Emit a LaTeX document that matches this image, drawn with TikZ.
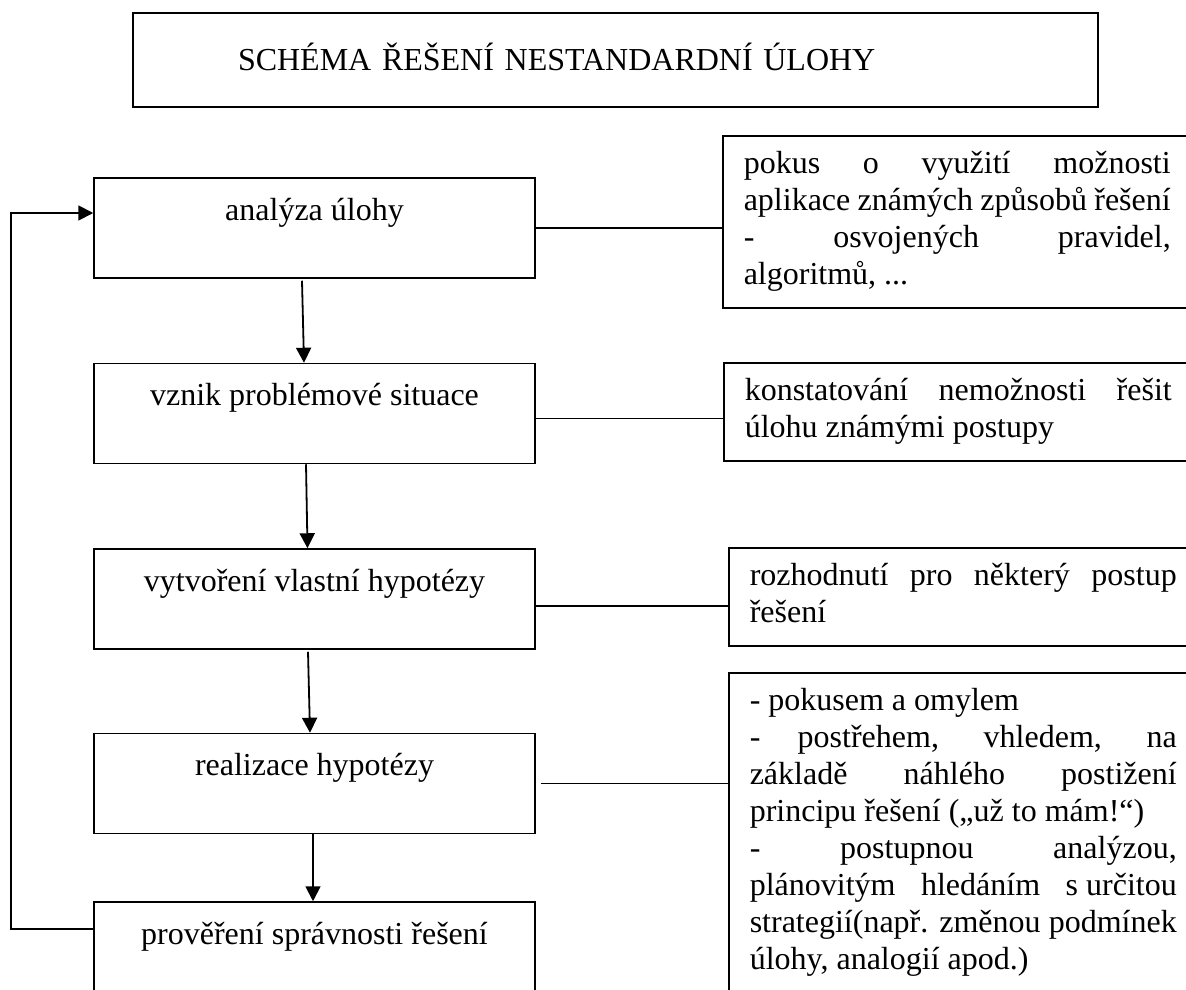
\documentclass[tikz,border=0pt]{standalone}
\usepackage{fontspec}
\setmainfont{Liberation Serif}
\usepackage{tikz}
\usetikzlibrary{positioning,arrows.meta}
\tikzset{
  titlebox/.style={draw, line width=1.5pt, minimum width=965pt, minimum height=94pt, text width=935pt, inner xsep=15pt, inner ysep=0pt, align=left, text height=21pt, text depth=0pt, font=\fontsize{32}{37}\selectfont},
  stepbox/.style={draw, line width=1.5pt, minimum width=441pt, inner sep=0pt, text height=42pt, text depth=58pt, font=\fontsize{32}{37}\selectfont},
  notebox/.style={draw, line width=1.5pt, anchor=north west, text width=427pt, inner xsep=21pt, inner ysep=12pt, align=justify, font=\fontsize{32}{37}\selectfont},
  link/.style={line width=1.8pt},
  flow/.style={-{Triangle[length=15pt,width=15pt]}, line width=1.8pt},
}

\begin{document}
\begin{tikzpicture}[x=1pt, y=1pt]
\useasboundingbox (0,0) rectangle (1186,-990);
\clip (0,0) rectangle (1186,-990);
\node[titlebox] (title) at (615.5,-60) {\hspace*{90pt}SCHÉMA ŘEŠENÍ NESTANDARDNÍ ÚLOHY};
% steps
\node[stepbox] (ana) at (314.5,-228) {analýza úlohy};
\node[stepbox, below=84pt of ana] (vznik) {vznik problémové situace};
\node[stepbox, below=84pt of vznik] (hyp) {vytvoření vlastní hypotézy};
\node[stepbox, below=83pt of hyp] (real) {realizace hypotézy};
\node[stepbox, below=67pt of real] (prov) {prověření správnosti řešení};
% notes
\node[notebox] (pokus) at (722,-135) {\strut pokus o využití možnosti\linebreak aplikace známých způsobů řešení\linebreak - osvojených pravidel,\linebreak algoritmů, ...\strut};
\node[notebox] (konst) at (723,-362) {\strut konstatování nemožnosti řešit\linebreak úlohu známými postupy\strut};
\node[notebox] (rozh) at (728,-547) {\strut rozhodnutí pro některý postup\linebreak řešení\strut};
\node[notebox] (zpus) at (728,-672) {\strut - pokusem a omylem\newline - postřehem, vhledem, na\linebreak základě náhlého postižení\linebreak principu řešení („už to mám!“)\newline - postupnou analýzou,\linebreak plánovitým hledáním \mbox{s určitou}\linebreak strategií(např. změnou podmínek\linebreak úlohy, analogií apod.)\strut};
\draw[link] (ana.east) -- (ana.east -| pokus.west);
\draw[link] ([yshift=-5pt]vznik.east) -- ([yshift=-5pt]vznik.east -| konst.west);
\draw[link] ([yshift=-7pt]hyp.east) -- ([yshift=-7pt]hyp.east -| rozh.west);
\draw[link] ([xshift=5pt]real.east) -- (real.east -| zpus.west);
% flow
\draw[flow] ([xshift=-12.5pt,yshift=-2pt]ana.south) -- ([xshift=-10.5pt]vznik.north);
\draw[flow] ([xshift=-8.5pt]vznik.south) -- ([xshift=-7pt]hyp.north);
\draw[flow] ([xshift=-6.5pt,yshift=-2pt]hyp.south) -- ([xshift=-4.5pt]real.north);
\draw[flow] ([xshift=-1.5pt]real.south) -- ([xshift=-1.5pt]prov.north);
\draw[flow] ([yshift=23pt]prov.west) -- ++(-82pt,0) |- ([yshift=15pt]ana.west);
\end{tikzpicture}
\end{document}
